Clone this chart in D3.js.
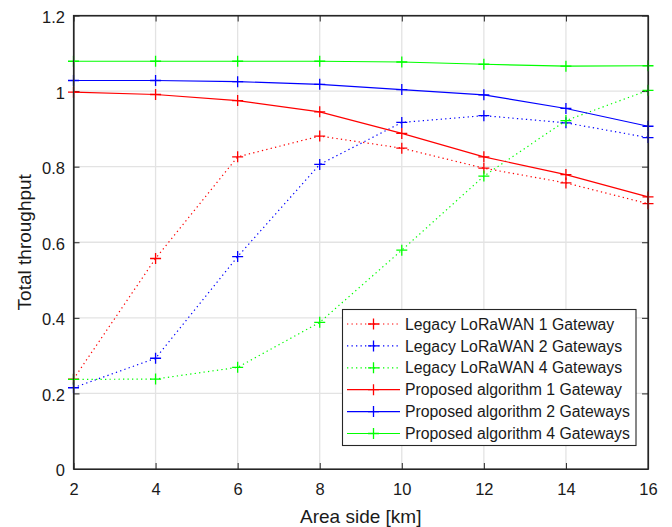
<!DOCTYPE html>
<html>
<head>
<meta charset="utf-8">
<script src="https://cdn.jsdelivr.net/npm/d3@7/dist/d3.min.js"></script>
<style>
  html, body { margin: 0; padding: 0; background: #fff; }
  svg { display: block; font-family: "Liberation Sans", Arial, Helvetica, sans-serif; }
</style>
</head>
<body>
<svg id="chart" width="672" height="527"></svg>
<script>
// Area side (km) for each measurement
const areaSide = [2, 4, 6, 8, 10, 12, 14, 16];

// Total throughput for each configuration
const legacy1 = [0.238, 0.557, 0.826, 0.881, 0.849, 0.796, 0.757, 0.702];
const legacy2 = [0.215, 0.293, 0.562, 0.806, 0.917, 0.935, 0.916, 0.877];
const legacy4 = [0.237, 0.238, 0.269, 0.388, 0.579, 0.775, 0.922, 1.002];
const proposed1 = [0.997, 0.991, 0.975, 0.945, 0.888, 0.826, 0.779, 0.720];
const proposed2 = [1.028, 1.028, 1.025, 1.018, 1.004, 0.990, 0.954, 0.907];
const proposed4 = [1.079, 1.079, 1.079, 1.079, 1.077, 1.071, 1.066, 1.067];

const seriesNames = [
  "Legacy LoRaWAN 1 Gateway",
  "Legacy LoRaWAN 2 Gateways",
  "Legacy LoRaWAN 4 Gateways",
  "Proposed algorithm 1 Gateway",
  "Proposed algorithm 2 Gateways",
  "Proposed algorithm 4 Gateways"
];
const seriesColors = ["#ff0000", "#0000ff", "#00ff00", "#ff0000", "#0000ff", "#00ff00"];
const seriesDotted = [true, true, true, false, false, false];
const seriesValues = [legacy1, legacy2, legacy4, proposed1, proposed2, proposed4];

const xTicks = [2, 4, 6, 8, 10, 12, 14, 16];
const yTicks = [0, 0.2, 0.4, 0.6, 0.8, 1, 1.2];

const xLabel = "Area side [km]";
const yLabel = "Total throughput";

(function draw() {
  const svg = d3.select("#chart");
  const pL = 73.5, pR = 648, pT = 15.5, pB = 469;

  const x = d3.scaleLinear().domain([2, 16]).range([pL, pR]);
  const y = d3.scaleLinear().domain([0, 1.2]).range([pB, pT]);

  const axisColor = "#262626";
  const tickLen = 6;

  // grid
  const grid = svg.append("g");
  grid.selectAll(".gx").data(xTicks.slice(1, -1)).enter().append("line")
    .attr("x1", d => x(d)).attr("x2", d => x(d))
    .attr("y1", pT).attr("y2", pB)
    .attr("stroke", "#e3e3e3").attr("stroke-width", 1.3);
  grid.selectAll(".gy").data(yTicks.slice(1, -1)).enter().append("line")
    .attr("x1", pL).attr("x2", pR)
    .attr("y1", d => y(d)).attr("y2", d => y(d))
    .attr("stroke", "#e3e3e3").attr("stroke-width", 1.3);

  // axes with inward ticks
  const fmt = d => d3.format("~g")(d);
  const xAxis = svg.append("g").attr("transform", `translate(0,${pB})`)
    .call(d3.axisBottom(x).tickValues(xTicks).tickFormat(fmt).tickSizeInner(-tickLen).tickSizeOuter(0).tickPadding(14));
  const xAxisTop = svg.append("g").attr("transform", `translate(0,${pT})`)
    .call(d3.axisTop(x).tickValues(xTicks).tickFormat("").tickSizeInner(-tickLen).tickSizeOuter(0));
  const yAxis = svg.append("g").attr("transform", `translate(${pL},0)`)
    .call(d3.axisLeft(y).tickValues(yTicks).tickFormat(fmt).tickSizeInner(-tickLen).tickSizeOuter(0).tickPadding(8.5));
  const yAxisRight = svg.append("g").attr("transform", `translate(${pR},0)`)
    .call(d3.axisRight(y).tickValues(yTicks).tickFormat("").tickSizeInner(-tickLen).tickSizeOuter(0));

  [xAxis, xAxisTop, yAxis, yAxisRight].forEach(g => {
    g.select(".domain").attr("stroke", axisColor).attr("stroke-width", 1.2);
    g.selectAll(".tick line").attr("stroke", axisColor).attr("stroke-width", 1);
    g.selectAll("text").attr("fill", "#1a1a1a").style("font-size", "16.5px")
      .style("font-family", "'Liberation Sans', Arial, sans-serif");
  });
  yAxis.selectAll("text").attr("dy", "0.42em");
  xAxis.selectAll("text").attr("dy", "0.71em");

  // axis titles
  svg.append("text")
    .attr("x", (pL + pR) / 2).attr("y", 522.5)
    .attr("text-anchor", "middle").attr("fill", "#1a1a1a")
    .style("font-size", "19px").text(xLabel);
  svg.append("text")
    .attr("transform", `translate(30.5,${(pT + pB) / 2}) rotate(-90)`)
    .attr("text-anchor", "middle").attr("fill", "#1a1a1a")
    .style("font-size", "19px").text(yLabel);

  // series
  const line = d3.line().x((d, i) => x(areaSide[i])).y(d => y(d));
  const mk = 5.5;
  const plot = svg.append("g");
  seriesValues.forEach((vals, s) => {
    const g = plot.append("g");
    g.append("path").datum(vals)
      .attr("d", line).attr("fill", "none")
      .attr("stroke", seriesColors[s]).attr("stroke-width", 1.2)
      .attr("stroke-dasharray", seriesDotted[s] ? "1.3,3.2" : null);
    g.selectAll("path.m").data(vals).enter().append("path")
      .attr("class", "m")
      .attr("d", (d, i) => {
        const cx = x(areaSide[i]), cy = y(d);
        return `M${cx - mk},${cy}H${cx + mk}M${cx},${cy - mk}V${cy + mk}`;
      })
      .attr("stroke", seriesColors[s]).attr("stroke-width", 1.3).attr("fill", "none");
  });

  // frame over data
  svg.append("rect").attr("x", pL).attr("y", pT)
    .attr("width", pR - pL).attr("height", pB - pT)
    .attr("fill", "none").attr("stroke", axisColor).attr("stroke-width", 1.2);

  // legend
  const lg = svg.append("g");
  const lx0 = 342.5, ly0 = 309.5, lw = 293.5, lh = 136;
  lg.append("rect").attr("x", lx0).attr("y", ly0).attr("width", lw).attr("height", lh)
    .attr("fill", "#fff").attr("stroke", axisColor).attr("stroke-width", 1.1);
  const rowY = i => 324 + i * 21.9;
  seriesNames.forEach((name, s) => {
    const cy = rowY(s);
    lg.append("line").attr("x1", 347).attr("x2", 400).attr("y1", cy).attr("y2", cy)
      .attr("stroke", seriesColors[s]).attr("stroke-width", 1.2)
      .attr("stroke-dasharray", seriesDotted[s] ? "1.3,3.2" : null);
    const cx = 373.5;
    lg.append("path")
      .attr("d", `M${cx - mk},${cy}H${cx + mk}M${cx},${cy - mk}V${cy + mk}`)
      .attr("stroke", seriesColors[s]).attr("stroke-width", 1.3);
    lg.append("text").attr("x", 405).attr("y", cy).attr("dy", "0.36em")
      .attr("fill", "#1a1a1a").style("font-size", "15.8px").text(name);
  });
})();
</script>
</body>
</html>
